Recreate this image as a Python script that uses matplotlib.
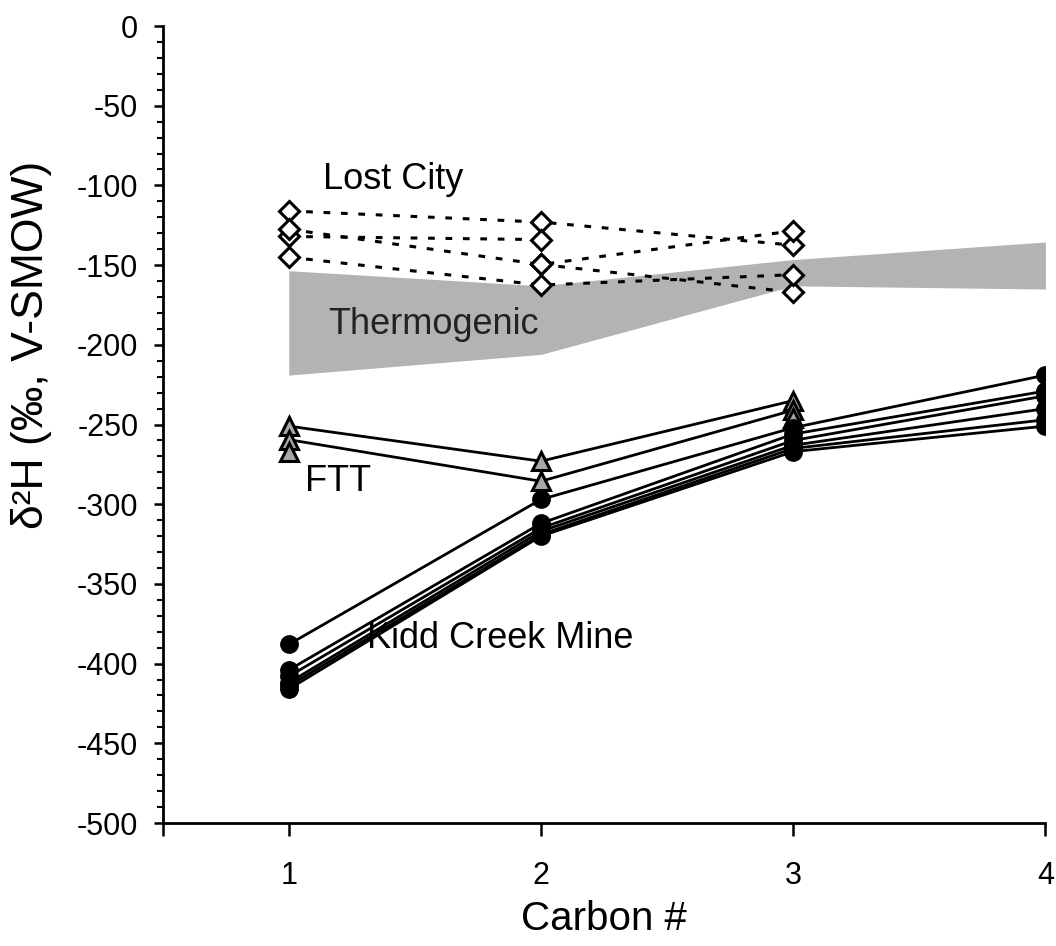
import numpy as np
import matplotlib
matplotlib.use("Agg")
import matplotlib.pyplot as plt
from matplotlib.ticker import MultipleLocator

plt.rcParams['font.family'] = ['Liberation Sans', 'DejaVu Sans']
plt.rcParams['axes.unicode_minus'] = False

carbon = [1, 2, 3, 4]

# Thermogenic envelope
thermo_top = [-153.5, -163, -146.5, -135.5]
thermo_bottom = [-219, -206, -163, -165]

# Lost City (open diamonds, dotted lines) -- C1..C3
lost_city = [
    [-116, -123, -137.5],
    [-132, -134, np.nan],
    [-127.5, -149.6, -128.5],
    [np.nan, -149.6, -167],
    [-145, -162.5, -156],
]

# FTT (grey triangles) -- C1..C3
ftt = [
    [-251, -273, -235],
    [-259.5, -285.6, -241],
    [-267, np.nan, -246],
]

# Kidd Creek Mine (black circles) -- C1..C4
kidd = [
    [-388, -297, -252, -219],
    [-404, -312, -256, -229],
    [-408, -315, -260, -232],
    [-412, -317, -263, -240],
    [-414, -319, -265, -247],
    [-416, -320, -267, -251],
]

fig = plt.figure(figsize=(10.56, 9.46), dpi=100)
ax = fig.add_axes([0.154, 0.130, 0.836, 0.8425])

ax.fill_between(carbon, thermo_bottom, thermo_top, color='#b3b3b3', linewidth=0, zorder=1)

for s in lost_city:
    ax.plot(carbon[:3], s, linestyle=(0, (2.2, 3.5)), color='black', lw=2.2,
            marker='D', ms=10, mfc='white', mec='black', mew=2.2, zorder=3)

for s in ftt:
    ax.plot(carbon[:3], s, linestyle='-', color='black', lw=2.0,
            marker='^', ms=13, mfc='#a8a8a8', mec='black', mew=2.2, zorder=4)

for s in kidd:
    ax.plot(carbon, s, linestyle='-', color='black', lw=2.0,
            marker='o', ms=12.5, mfc='black', mec='black', zorder=5)

ax.text(1.415, -96, 'Lost City', fontsize=26, ha='center', va='center')
ax.text(1.575, -187, 'Thermogenic', fontsize=26, ha='center', va='center', color='#222222')
ax.text(1.196, -286, 'FTT', fontsize=26, ha='center', va='center')
ax.text(1.84, -384, 'Kidd Creek Mine', fontsize=26, ha='center', va='center')

ax.set_xlim(0.5, 4)
ax.set_ylim(-500, 0)
ax.set_xticks([0.5, 1, 2, 3, 4])
ax.set_xticklabels(['', '1', '2', '3', '4'])
ax.yaxis.set_major_locator(MultipleLocator(50))
ax.yaxis.set_minor_locator(MultipleLocator(10))
ax.tick_params(axis='both', which='major', direction='out', width=1.8, labelsize=22)
ax.tick_params(axis='y', which='major', length=6.5, pad=11)
ax.tick_params(axis='x', which='major', length=9, pad=18)
ax.tick_params(axis='y', which='minor', direction='out', length=4, width=1.5)

for sp in ['top', 'right']:
    ax.spines[sp].set_visible(False)
for sp in ['left', 'bottom']:
    ax.spines[sp].set_linewidth(2.0)

ax.set_xlabel('Carbon #', fontsize=29, va='center')
ax.xaxis.set_label_coords(0.5, -0.121)
ax.set_ylabel('δ²H (‰, V-SMOW)', fontsize=32)
ax.yaxis.set_label_coords(-0.125, 0.60)

fig.savefig('out.png', dpi=100)
